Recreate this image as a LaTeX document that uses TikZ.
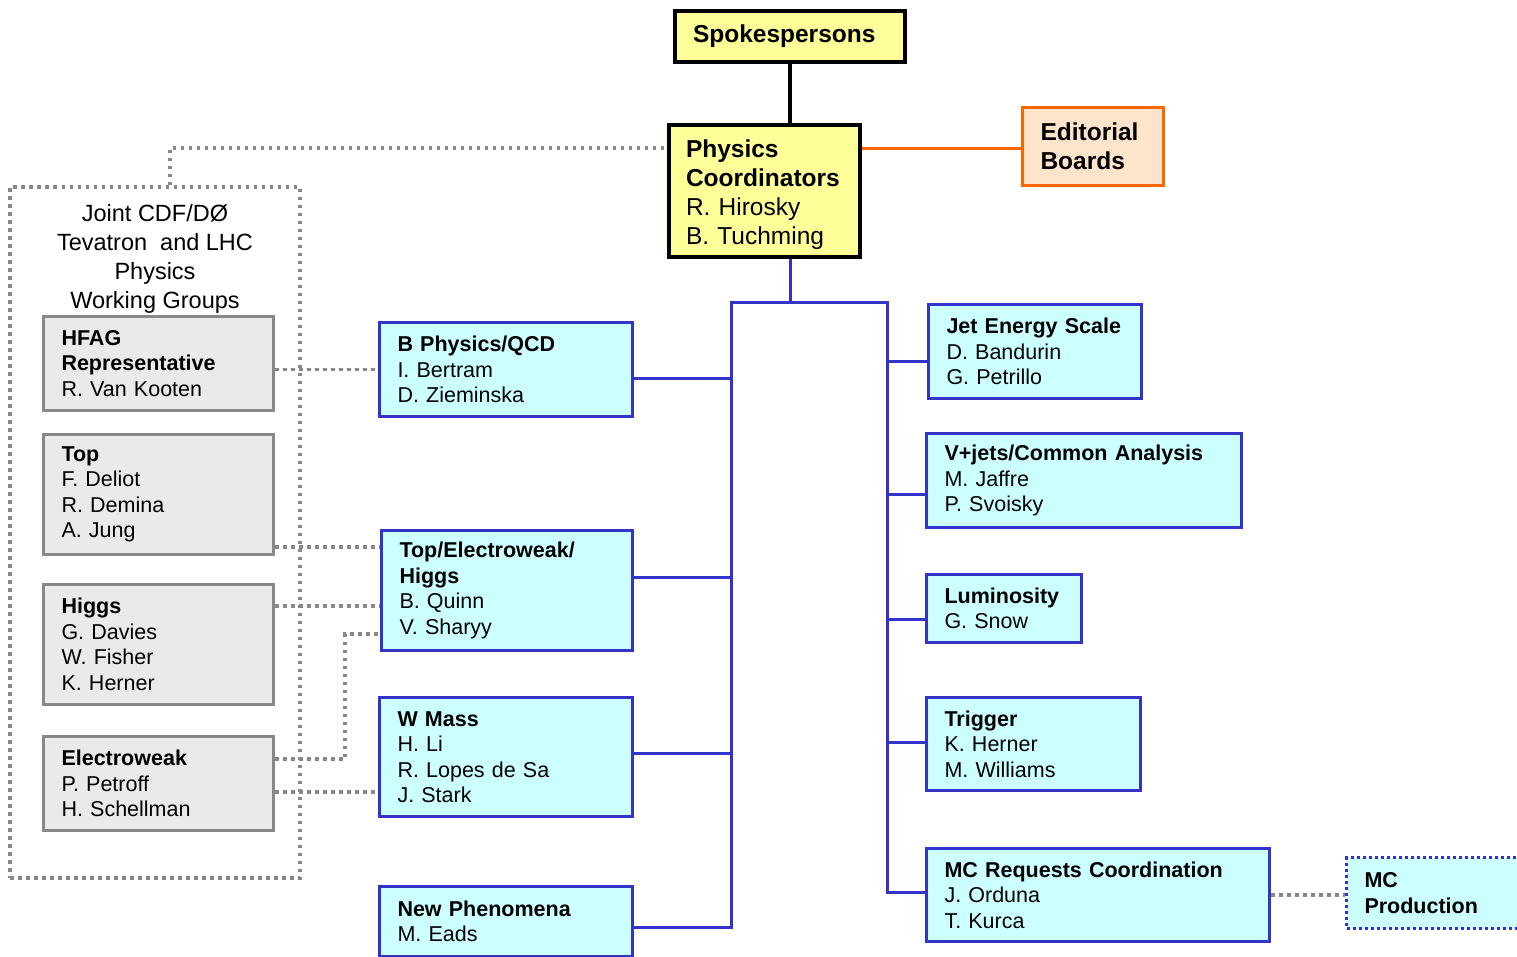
\documentclass[tikz,border=0pt]{standalone}
\usepackage{fontspec}
\setmainfont{Liberation Sans}
\definecolor{lemon}{HTML}{FFFF99}
\definecolor{peach}{HTML}{FFE4CC}
\definecolor{orangeline}{HTML}{FF6600}
\definecolor{aqua}{HTML}{CCFFFF}
\definecolor{wgblue}{HTML}{3333CC}
\definecolor{lightgray}{HTML}{EAEAEA}
\definecolor{midgray}{HTML}{888888}
\begin{document}
\begin{tikzpicture}[x=1pt,y=-1pt,
    big/.style={font=\fontsize{24.5}{29}\selectfont},
    small/.style={font=\fontsize{21.5}{25.5}\selectfont},
    box/.style={draw,rectangle,align=left,inner xsep=18pt,inner ysep=0pt},
    yellowbox/.style={box,big,fill=lemon,draw=black,line width=4pt},
    orangebox/.style={box,big,fill=peach,draw=orangeline,line width=3pt},
    graybox/.style={box,small,fill=lightgray,draw=midgray,line width=3pt},
    bluebox/.style={box,small,fill=aqua,draw=wgblue,line width=3.5pt},
    dotline/.style={draw=midgray,line width=3.5pt,dash pattern=on 3.5pt off 4.5pt},
    busline/.style={draw=wgblue,line width=3pt}]
  \useasboundingbox (0,0) rectangle (1517,956);

  % top of the chart
  \node[yellowbox,text width=194pt,minimum height=51pt] (spokes) at (790,36.5) {\textbf{Spokespersons}};
  \node[yellowbox,text width=157pt,inner xsep=17pt,minimum height=132pt] (coord) at (764.5,191)
    {\rule{0pt}{25pt}\textbf{Physics}\\\textbf{Coordinators}\\R. Hirosky\\B. Tuchming};
  \node[orangebox,text width=105pt,minimum height=78pt] (edit) at (1093,146.5) {\textbf{Editorial}\\\textbf{Boards}};

  % joint working groups
  \node[dotline,minimum width=290pt,minimum height=691pt] (joint) at (155,532.5) {};
  \node[align=center,font=\fontsize{23.5}{29}\selectfont] (jointlabel) at (155,258.5)
    {Joint CDF/DØ\\Tevatron\ \ and LHC\\Physics\\Working Groups};
  \node[graybox,text width=194pt,minimum height=94pt] (hfag) at (158.5,363.5) {\textbf{HFAG}\\\textbf{Representative}\\R. Van Kooten};
  \node[graybox,text width=194pt,minimum height=120pt] (top) at (158.5,494.5) {\textbf{Top}\\F. Deliot\\R. Demina\\A. Jung};
  \node[graybox,text width=194pt,minimum height=120pt] (higgs) at (158.5,644.5) {\textbf{Higgs}\\G. Davies\\W. Fisher\\K. Herner};
  \node[graybox,text width=194pt,minimum height=94pt] (ew) at (158.5,783.5) {\textbf{Electroweak}\\P. Petroff\\H. Schellman};

  % physics groups
  \node[bluebox,text width=217pt,minimum height=94pt] (bphys) at (506,369.5) {\textbf{B Physics/QCD}\\I. Bertram\\D. Zieminska};
  \node[bluebox,text width=215pt,minimum height=120pt] (tewh) at (507,590.5) {\textbf{Top/Electroweak/}\\\textbf{Higgs}\\B. Quinn\\V. Sharyy};
  \node[bluebox,text width=217pt,minimum height=119pt] (wmass) at (506,757) {\textbf{W Mass}\\H. Li\\R. Lopes de Sa\\J. Stark};
  \node[bluebox,text width=217pt,minimum height=70pt] (newph) at (506,921.5) {\textbf{New Phenomena}\\M. Eads};

  % common groups
  \node[bluebox,text width=177pt,minimum height=94pt] (jes) at (1035,351.5) {\textbf{Jet Energy Scale}\\D. Bandurin\\G. Petrillo};
  \node[bluebox,text width=279pt,minimum height=94pt] (vjets) at (1084,480.5) {\textbf{V+jets/Common Analysis}\\M. Jaffre\\P. Svoisky};
  \node[bluebox,text width=119pt,minimum height=68pt] (lumi) at (1004,608.5) {\textbf{Luminosity}\\G. Snow};
  \node[bluebox,text width=178pt,minimum height=93pt] (trig) at (1033.5,744) {\textbf{Trigger}\\K. Herner\\M. Williams};
  \node[bluebox,text width=307pt,minimum height=93pt] (mcreq) at (1098,895) {\textbf{MC Requests Coordination}\\J. Orduna\\T. Kurca};
  \node[bluebox,dash pattern=on 3pt off 3pt,text width=154pt,minimum height=71pt] (mcprod) at (1441.5,893) {\textbf{MC}\\\textbf{Production}};

  % connectors
  \coordinate (hub) at (790,302);
  \coordinate (busL) at (731,302);
  \coordinate (busR) at (887,302);
  \draw[line width=4pt] (spokes.south) -- (spokes.south |- coord.north);
  \draw[draw=orangeline,line width=3pt] ([yshift=-1.5pt]edit.west) -- ([yshift=-1.5pt]edit.west -| coord.east);
  \draw[busline] (spokes.south |- coord.south) -- (hub);
  \draw[busline] ([yshift=-5.5pt]newph.east) -- ([yshift=-5.5pt]newph.east -| busL) -- (busL) -- (busR)
    -- ([yshift=3pt]mcreq.west -| busR) -- ([yshift=3pt]mcreq.west);
  \foreach \n/\s in {bphys/-8.5,tewh/13.5,wmass/4}
    \draw[busline] ([yshift=\s pt]\n.east) -- ([yshift=\s pt]\n.east -| busL);
  \foreach \n/\s in {jes/-9.5,vjets/-13.5,lumi/-10.5,trig/2}
    \draw[busline] ([yshift=\s pt]\n.west) -- ([yshift=\s pt]\n.west -| busR);

  % dotted links
  \coordinate (tap) at (170,148);
  \coordinate (ytop) at (0,547);
  \coordinate (yhiggs) at (0,606);
  \coordinate (yewA) at (0,759);
  \coordinate (yewB) at (0,792);
  \coordinate (bend) at (345,634);
  \draw[dotline] (joint.north -| tap) -- (tap) -- (tap -| coord.west);
  \draw[dotline] (bphys.west -| hfag.east) -- (bphys.west);
  \draw[dotline] (ytop -| top.east) -- (ytop -| tewh.west);
  \draw[dotline] (yhiggs -| higgs.east) -- (yhiggs -| tewh.west);
  \draw[dotline] (yewA -| ew.east) -| (bend) -- (bend -| tewh.west);
  \draw[dotline] (yewB -| ew.east) -- (yewB -| wmass.west);
  \draw[dotline] (mcreq.east) -- (mcreq.east -| mcprod.west);
\end{tikzpicture}
\end{document}
